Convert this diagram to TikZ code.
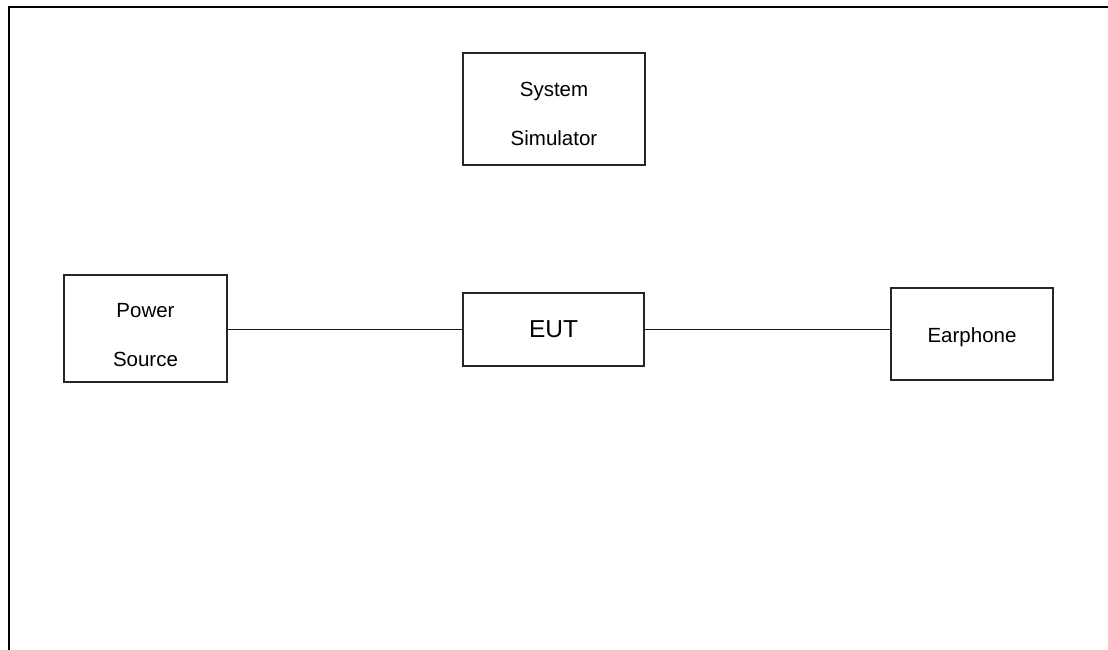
\documentclass[tikz,border=0pt]{standalone}
\usepackage{fontspec}
\setmainfont{Liberation Sans}
\usetikzlibrary{positioning}

\tikzset{
  box/.style={draw=black!85, line width=1.4pt, inner sep=0pt, align=center,
              font=\fontsize{20.5}{49}\selectfont},
  link/.style={draw=black!90, line width=1.7pt}
}

\begin{document}
\begin{tikzpicture}[x=1pt,y=-1pt]
    \useasboundingbox (0,0) rectangle (1108,650);
    % Frame
    \draw[line width=2.7pt] (1108,7) -- (9,7) -- (9,650);

    % Boxes
    \node[box, minimum width=182pt, minimum height=112pt] (sim) at (554,109) {\rule{0pt}{25pt}System\\Simulator};
    \node[box, minimum width=163pt, minimum height=107pt] (psu) at (145.5,328.5) {\rule{0pt}{27pt}Power\\Source};
    \node[box, minimum width=181pt, minimum height=73pt, font=\fontsize{24.5}{28}\selectfont] (eut) at (553.5,329.5) {EUT};
    \node[box, minimum width=162pt, minimum height=92pt] (ear) at (972,334) {\rule{0pt}{21pt}Earphone};

    % Links
    \draw[link] (psu.east |- eut.west) -- (eut.west);
    \draw[link] (eut.east) -- (eut.east -| ear.west);
\end{tikzpicture}
\end{document}
